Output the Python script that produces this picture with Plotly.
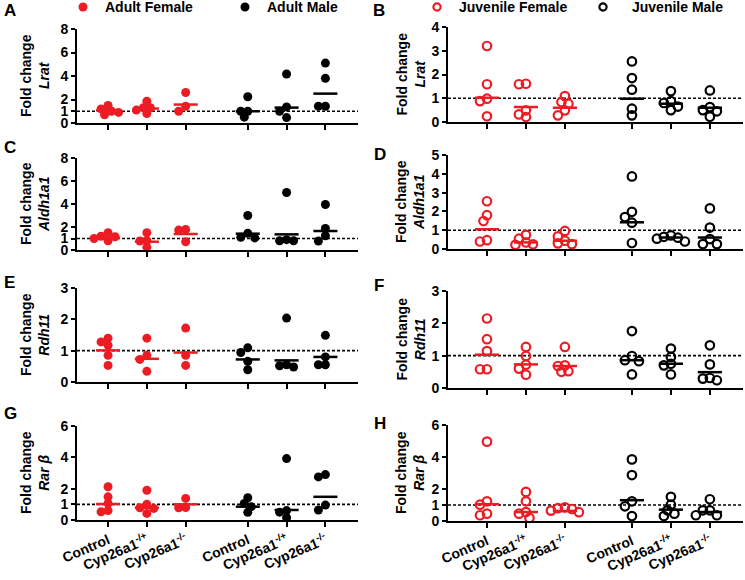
import plotly.graph_objects as go

W, H = 745, 580
RED = "#ED1C24"
BLACK = "#000000"
FONT = "Liberation Sans"

groups = ["Control", "Cyp26a1<sup>-/+</sup>", "Cyp26a1<sup>-/-</sup>"]
genes = ["Lrat", "Aldh1a1", "Rdh11", "Rar β"]
panel_letters = ["A", "B", "C", "D", "E", "F", "G", "H"]
legend_labels = ["Adult Female", "Adult Male", "Juvenile Female", "Juvenile Male"]

# ---------------- data (fold change) ----------------
# Lrat
lrat_adult_female = [[1.5, 1.2, 1.0, 0.9, 0.7], [1.85, 1.3, 1.3, 1.1, 0.8], [2.6, 1.43, 1.0]]
lrat_adult_male = [[2.23, 1.0, 1.0, 0.5], [4.17, 1.37, 1.0, 0.46], [5.1, 3.8, 1.43, 1.43]]
lrat_adult_female_center = [1.08, 1.23, 1.57]
lrat_adult_male_center = [1.0, 1.31, 2.5]
lrat_juv_female = [[3.2, 1.59, 0.98, 0.88, 0.24], [1.61, 1.59, 0.49, 0.32, 0.21], [1.09, 0.84, 0.77, 0.49, 0.28]]
lrat_juv_male = [[2.55, 1.85, 1.36, 0.56, 0.28], [1.3, 0.88, 0.8, 0.65, 0.5], [1.33, 0.63, 0.5, 0.45, 0.22]]
lrat_juv_female_center = [1.02, 0.63, 0.6]
lrat_juv_male_center = [0.98, 0.77, 0.6]

# Aldh1a1
aldh_adult_female = [[1.5, 1.2, 1.15, 1.0, 0.8], [1.5, 0.8, 0.78, 0.23], [1.79, 1.73, 0.72]]
aldh_adult_male = [[3.0, 1.45, 1.1, 1.05], [5.0, 0.9, 0.8, 0.8], [3.96, 1.88, 1.24, 0.78]]
aldh_adult_female_center = [1.07, 0.72, 1.39]
aldh_adult_male_center = [1.42, 1.36, 1.65]
aldh_juv_female = [[2.54, 1.8, 1.49, 0.47, 0.4], [0.75, 0.55, 0.35, 0.25, 0.22], [0.96, 0.67, 0.44, 0.3, 0.26]]
aldh_juv_male = [[3.86, 1.98, 1.7, 1.4, 0.32], [0.72, 0.65, 0.6, 0.55, 0.4], [2.16, 1.14, 0.53, 0.26, 0.26]]
aldh_juv_female_center = [1.05, 0.35, 0.44]
aldh_juv_male_center = [1.42, 0.61, 0.61]

# Rdh11
rdh_adult_female = [[1.4, 1.28, 1.17, 0.85, 0.53], [1.4, 0.85, 0.72, 0.34], [1.72, 0.85, 0.53]]
rdh_adult_male = [[1.09, 0.94, 0.66, 0.39], [2.04, 0.55, 0.52, 0.48], [1.49, 0.8, 0.55, 0.55]]
rdh_adult_female_center = [1.01, 0.74, 0.94]
rdh_adult_male_center = [0.72, 0.69, 0.8]
rdh_juv_female = [[2.15, 1.51, 1.14, 0.58, 0.58], [1.27, 0.99, 0.72, 0.6, 0.41], [1.27, 0.7, 0.68, 0.52, 0.5]]
rdh_juv_male = [[1.76, 0.99, 0.86, 0.83, 0.42], [1.22, 0.96, 0.75, 0.7, 0.42], [1.32, 0.73, 0.31, 0.29, 0.24]]
rdh_juv_female_center = [1.03, 0.73, 0.68]
rdh_juv_male_center = [0.86, 0.75, 0.49]

# Rar beta
rarb_adult_female = [[2.12, 1.48, 1.06, 0.6, 0.53], [1.9, 1.0, 0.78, 0.74, 0.42], [1.38, 0.8, 0.78]]
rarb_adult_male = [[1.42, 1.06, 0.85, 0.49], [3.92, 0.6, 0.5, 0.15], [2.9, 2.75, 0.95, 0.64]]
rarb_adult_female_center = [1.02, 0.78, 1.0]
rarb_adult_male_center = [0.85, 0.64, 1.48]
rarb_juv_female = [[4.96, 1.23, 1.02, 0.46, 0.36], [1.82, 1.23, 0.56, 0.46, 0.19], [0.85, 0.8, 0.75, 0.65, 0.55]]
rarb_juv_male = [[3.85, 2.87, 1.23, 0.92, 0.31], [1.51, 1.02, 0.67, 0.46, 0.31], [1.36, 0.67, 0.67, 0.36, 0.36]]
rarb_juv_female_center = [1.05, 0.56, 0.63]
rarb_juv_male_center = [1.3, 0.71, 0.56]

y_max = [8, 4, 8, 5, 3, 3, 6, 6]
y_ticks = [[0, 1, 2, 4, 6, 8], [0, 1, 2, 3, 4], [0, 1, 2, 4, 6, 8], [0, 1, 2, 3, 4, 5],
           [0, 1, 2, 3], [0, 1, 2, 3], [0, 1, 2, 4, 6], [0, 1, 2, 4, 6]]

panels = [
    (lrat_adult_female, lrat_adult_male, lrat_adult_female_center, lrat_adult_male_center),
    (lrat_juv_female, lrat_juv_male, lrat_juv_female_center, lrat_juv_male_center),
    (aldh_adult_female, aldh_adult_male, aldh_adult_female_center, aldh_adult_male_center),
    (aldh_juv_female, aldh_juv_male, aldh_juv_female_center, aldh_juv_male_center),
    (rdh_adult_female, rdh_adult_male, rdh_adult_female_center, rdh_adult_male_center),
    (rdh_juv_female, rdh_juv_male, rdh_juv_female_center, rdh_juv_male_center),
    (rarb_adult_female, rarb_adult_male, rarb_adult_female_center, rarb_adult_male_center),
    (rarb_juv_female, rarb_juv_male, rarb_juv_female_center, rarb_juv_male_center),
]

# ---------------- layout geometry (pixels) ----------------
col_x = [(77, 358), (448, 743)]
col_range = [(0.2, 7.44), (0.0, 7.57)]
col_pos = [[1, 2, 3, 4.6, 5.6, 6.6], [1, 2, 3, 4.72, 5.72, 6.72]]
panel_y = [(29, 123), (27, 122), (158, 250), (155, 249), (288, 382), (291, 388), (426, 520), (425, 521)]
letter_pos = [(2, 10), (371, 10), (2, 147), (372, 154), (2, 283), (372, 285), (2, 413), (372, 423)]


def px_x(p):
    return p / W


def px_y(p):
    return 1 - p / H


def swarm(vals, sy, sx, d, step):
    placed = []
    offs = [0.0] * len(vals)
    order = sorted(range(len(vals)), key=lambda i: -vals[i])
    cands = [0.0]
    for m in range(1, 12):
        cands += [-m * step, m * step]
    for i in order:
        y = vals[i] * sy
        chosen = cands[-1]
        for c in cands:
            if all((c - px) ** 2 + (y - py) ** 2 >= d ** 2 for px, py in placed):
                chosen = c
                break
        placed.append((chosen, y))
        offs[i] = chosen / sx
    return offs


fig = go.Figure()
layout = dict(
    width=W, height=H, margin=dict(l=0, r=0, t=0, b=0, pad=0, autoexpand=False),
    paper_bgcolor="white", plot_bgcolor="rgba(0,0,0,0)", showlegend=False,
    font=dict(family=FONT, color="black"),
)
shapes = []
annotations = []

for k in range(8):
    col = k % 2
    row = k // 2
    ax = "" if k == 0 else str(k + 1)
    xa, ya = "x" + ax, "y" + ax
    x0p, x1p = col_x[col]
    ytop, ybot = panel_y[k]
    sx = (x1p - x0p) / (col_range[col][1] - col_range[col][0])
    sy = (ybot - ytop) / y_max[k]
    female, male, fcen, mcen = panels[k]
    filled = (col == 0)
    pos = col_pos[col]
    for s, (series, centers, color) in enumerate([(female, fcen, RED), (male, mcen, BLACK)]):
        for g in range(3):
            xc = pos[s * 3 + g]
            vals = series[g]
            offs = swarm(vals, sy, sx, 6.5, 3.5)
            if filled:
                marker = dict(color=color, size=9, symbol="circle", line=dict(width=0))
            else:
                marker = dict(color=color, size=8.5, symbol="circle-open", line=dict(width=2.2, color=color))
            fig.add_trace(go.Scatter(
                x=[xc + o for o in offs], y=vals, mode="markers", marker=marker,
                xaxis=xa, yaxis=ya, cliponaxis=False, hoverinfo="skip"))
            fig.add_trace(go.Scatter(
                x=[xc - 0.31, xc + 0.31], y=[centers[g], centers[g]], mode="lines",
                line=dict(color=color, width=2.5), xaxis=xa, yaxis=ya,
                cliponaxis=False, hoverinfo="skip"))
    bottom = row == 3
    layout["xaxis" + ax] = dict(
        domain=[px_x(x0p), px_x(x1p)], range=list(col_range[col]), anchor=ya, automargin=False,
        showline=True, linewidth=2, linecolor="black", showgrid=False, zeroline=False,
        ticks="outside", ticklen=5, tickwidth=2, tickcolor="black",
        tickvals=pos, ticktext=(groups * 2) if bottom else [""] * 6,
        showticklabels=bottom, tickangle=-23,
        tickfont=dict(family=FONT, size=14, color="black", weight="bold"),
    )
    layout["yaxis" + ax] = dict(
        domain=[px_y(ybot), px_y(ytop)], range=[0, y_max[k]], anchor=xa, automargin=False,
        showline=True, linewidth=2, linecolor="black", showgrid=False, zeroline=False,
        ticks="outside", ticklen=4, tickwidth=2, tickcolor="black",
        tickvals=y_ticks[k], tickfont=dict(family=FONT, size=14, color="black", weight="bold"),
    )
    shapes.append(dict(type="line", xref=xa + " domain", yref=ya, x0=0, x1=1, y0=1, y1=1,
                       line=dict(color="black", width=1.6, dash="3px,2px"), layer="below"))
    # axis title
    tx = 35 if col == 0 else 410
    annotations.append(dict(
        xref="paper", yref="paper", x=px_x(tx), y=px_y((ytop + ybot) / 2),
        text="<b>Fold change</b><br><b><i>%s</i></b>" % genes[row], textangle=-90,
        showarrow=False, xanchor="center", yanchor="middle",
        font=dict(family=FONT, size=14, color="black")))
    lx, ly = letter_pos[k]
    annotations.append(dict(
        xref="paper", yref="paper", x=px_x(lx), y=px_y(ly), text="<b>%s</b>" % panel_letters[k],
        showarrow=False, xanchor="left", yanchor="middle",
        font=dict(family=FONT, size=17, color="black")))

# legend (drawn as shapes + text)
legend_items = [(83, 103, RED, True), (245, 265, BLACK, True), (437, 457, RED, False), (603, 630, BLACK, False)]
for (mx, tx, color, fill), label in zip(legend_items, legend_labels):
    if fill:
        shapes.append(dict(type="circle", xref="paper", yref="paper", xsizemode="pixel", ysizemode="pixel",
                           xanchor=px_x(mx), yanchor=px_y(7), x0=-4.5, x1=4.5, y0=-4.5, y1=4.5,
                           fillcolor=color, line=dict(width=0)))
    else:
        shapes.append(dict(type="circle", xref="paper", yref="paper", xsizemode="pixel", ysizemode="pixel",
                           xanchor=px_x(mx), yanchor=px_y(7), x0=-3.6, x1=3.6, y0=-3.6, y1=3.6,
                           fillcolor="rgba(0,0,0,0)", line=dict(width=2.2, color=color)))
    annotations.append(dict(
        xref="paper", yref="paper", x=px_x(tx), y=px_y(7), text="<b>%s</b>" % label,
        showarrow=False, xanchor="left", yanchor="middle",
        font=dict(family=FONT, size=14, color="black")))

layout["shapes"] = shapes
layout["annotations"] = annotations
fig.update_layout(**layout)
fig.write_html(
    "out.html",
    config={"displayModeBar": False, "staticPlot": True},
    post_script="document.body.style.margin='0';document.body.style.overflow='hidden';"
                "document.documentElement.style.overflow='hidden';",
)
